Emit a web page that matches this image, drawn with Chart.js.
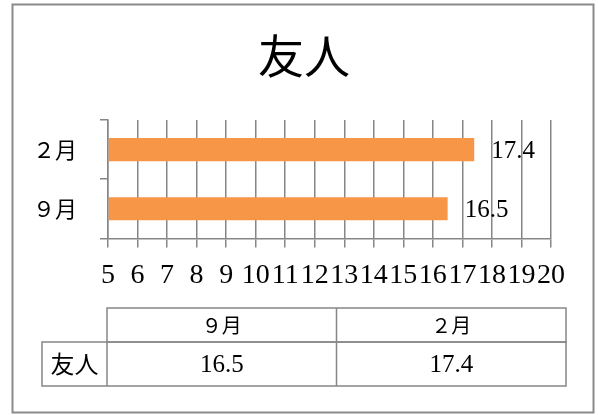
<!doctype html>
<html>

<head>
  <meta charset="utf-8">
  <title>友人</title>
  <script src="https://cdn.jsdelivr.net/npm/chart.js@4/dist/chart.umd.min.js"></script>
  <style>
    body { margin: 0; background: #fff; }
  </style>
</head>

<body>
  <canvas id="canvas" width="598" height="415"></canvas>

  <script>
    // data
    var chartTitle = '友人';
    var seriesName = '友人';
    var months = ['９月', '２月'];
    var values = [16.5, 17.4];
    var xMin = 5;
    var xMax = 20;

    var CJK = '"Noto Sans CJK JP", sans-serif';
    var SERIF = '"Liberation Serif", "Noto Sans CJK JP", serif';
    var lineGray = '#868686';

    // outer frame and title
    var framePlugin = {
      id: 'frame',
      beforeDraw: function(chart) {
        var ctx = chart.ctx;
        ctx.save();
        ctx.fillStyle = '#fff';
        ctx.fillRect(0, 0, chart.width, chart.height);
        ctx.strokeStyle = '#8a8a8a';
        ctx.lineWidth = 2;
        ctx.strokeRect(12.5, 4.5, 581, 408);
        ctx.fillStyle = '#000';
        ctx.font = '46px ' + CJK;
        ctx.textAlign = 'center';
        ctx.textBaseline = 'middle';
        ctx.fillText(chartTitle, 304, 56);
        ctx.restore();
      }
    };

    // value labels at bar ends
    var barLabels = {
      id: 'barLabels',
      afterDatasetsDraw: function(chart) {
        var ctx = chart.ctx;
        var meta = chart.getDatasetMeta(0);
        ctx.save();
        ctx.font = '25px ' + SERIF;
        ctx.fillStyle = '#000';
        ctx.textAlign = 'left';
        ctx.textBaseline = 'middle';
        meta.data.forEach(function(bar, i) {
          ctx.fillText(String(values[i]), bar.x + 17, bar.y + 2);
        });
        ctx.restore();
      }
    };

    // data table under the chart
    var dataTable = {
      id: 'dataTable',
      afterDraw: function(chart) {
        var ctx = chart.ctx;
        var labelLeft = 42, left = 107, right = 566;
        var top = 308, midY = 342, bottom = 386;
        var colW = (right - left) / months.length;
        ctx.save();
        ctx.strokeStyle = lineGray;
        ctx.lineWidth = 1.5;
        ctx.strokeRect(left, top, right - left, midY - top);
        ctx.strokeRect(labelLeft, midY, right - labelLeft, bottom - midY);
        ctx.beginPath();
        ctx.moveTo(left, midY); ctx.lineTo(left, bottom);
        for (var i = 1; i < months.length; i++) {
          ctx.moveTo(left + colW * i, top);
          ctx.lineTo(left + colW * i, bottom);
        }
        ctx.stroke();

        ctx.fillStyle = '#000';
        ctx.textAlign = 'center';
        ctx.textBaseline = 'middle';
        ctx.font = '20px ' + CJK;
        months.forEach(function(m, i) {
          ctx.fillText(m, left + colW * (i + 0.5), (top + midY) / 2);
        });
        ctx.font = '25px ' + SERIF;
        values.forEach(function(v, i) {
          ctx.fillText(String(v), left + colW * (i + 0.5), (midY + bottom) / 2 + 1);
        });
        ctx.font = '24px ' + CJK;
        ctx.fillText(seriesName, (labelLeft + left) / 2, (midY + bottom) / 2);
        ctx.restore();
      }
    };

    var chart = new Chart('canvas', {
      type: 'bar',
      data: {
        labels: months,
        datasets: [{
          label: seriesName,
          data: values,
          base: xMin,
          backgroundColor: '#F79646',
          borderWidth: 0,
          barPercentage: 0.39,
          categoryPercentage: 1
        }]
      },
      options: {
        indexAxis: 'y',
        responsive: false,
        animation: false,
        layout: { padding: { left: 0, right: 47, top: 120, bottom: 112 } },
        plugins: {
          legend: { display: false },
          tooltip: { enabled: false },
          title: { display: false }
        },
        scales: {
          x: {
            type: 'linear',
            min: xMin,
            max: xMax,
            ticks: {
              stepSize: 1,
              autoSkip: false,
              maxRotation: 0,
              color: '#000',
              padding: 11,
              font: { family: SERIF, size: 28, lineHeight: 1.2 }
            },
            grid: { color: lineGray, lineWidth: 1.5, tickLength: 9 },
            border: { color: lineGray, width: 1.5 }
          },
          y: {
            reverse: true,
            afterFit: function(scale) { scale.width = 108; },
            ticks: {
              color: '#000',
              padding: 23,
              font: { family: CJK, size: 22 }
            },
            grid: { offset: true, drawOnChartArea: false, tickLength: 8, color: lineGray, lineWidth: 1.5 },
            border: { color: lineGray, width: 1.5 }
          }
        }
      },
      plugins: [framePlugin, barLabels, dataTable]
    });
  </script>
</body>

</html>
